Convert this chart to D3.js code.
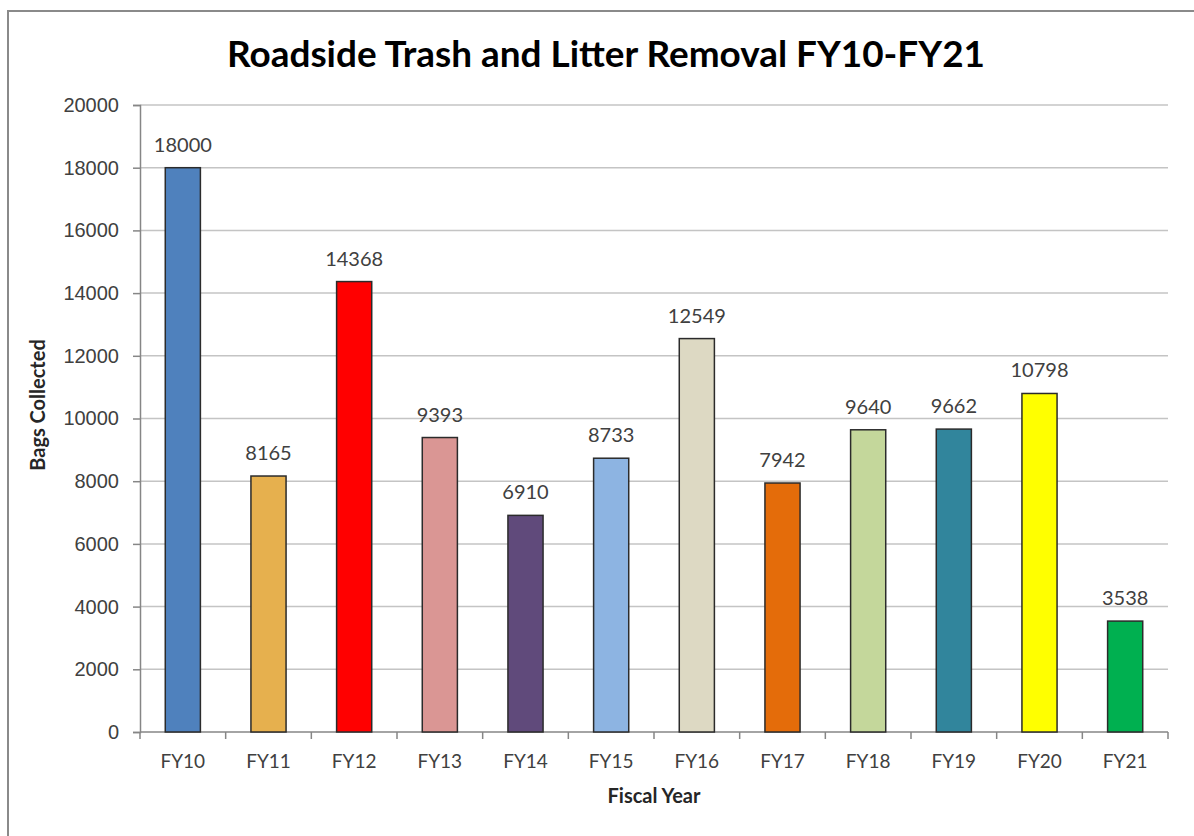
<!DOCTYPE html>
<html lang="en">
<head>
<meta charset="UTF-8">
<title>Roadside Trash and Litter Removal FY10-FY21</title>
<script src="https://d3js.org/d3.v7.min.js"></script>
<style>
  body { margin: 0; background: #fff; }
  svg { display: block; font-family: Lato, "Open Sans", sans-serif; }
</style>
</head>
<body>
<svg id="chart" width="1194" height="836"></svg>
<script>
  // data
  var years = ["FY10", "FY11", "FY12", "FY13", "FY14", "FY15", "FY16", "FY17", "FY18", "FY19", "FY20", "FY21"];
  var bags = [18000, 8165, 14368, 9393, 6910, 8733, 12549, 7942, 9640, 9662, 10798, 3538];
  var barColors = ["#4f81bd", "#e6b04e", "#ff0000", "#da9694", "#604a7b", "#8db4e2",
                   "#ddd9c3", "#e46c0a", "#c4d79b", "#31859c", "#ffff00", "#00b050"];
  var yTicks = [0, 2000, 4000, 6000, 8000, 10000, 12000, 14000, 16000, 18000, 20000];

  var svg = d3.select("#chart");

  // outer chart border (only top and left are visible in the frame)
  svg.append("rect")
    .attr("x", 8).attr("y", 11)
    .attr("width", 1220).attr("height", 900)
    .attr("fill", "none")
    .attr("stroke", "#8a8a8a")
    .attr("stroke-width", 2);

  // plot area
  var plotL = 140, plotR = 1168, plotT = 105, plotB = 732;

  var x = d3.scaleBand()
    .domain(years)
    .range([plotL, plotR])
    .paddingInner(0.59)
    .paddingOuter(0.295);

  var y = d3.scaleLinear()
    .domain([0, 20000])
    .range([plotB, plotT]);

  // gridlines
  svg.append("g")
    .selectAll("line")
    .data(yTicks.slice(1))
    .enter().append("line")
      .attr("x1", plotL).attr("x2", plotR)
      .attr("y1", function(d) { return y(d); })
      .attr("y2", function(d) { return y(d); })
      .attr("stroke", "#c4c4c4")
      .attr("stroke-width", 1.5);

  // y axis
  var yAxis = svg.append("g")
    .attr("transform", "translate(" + plotL + ",0)")
    .call(d3.axisLeft(y).tickValues(yTicks).tickSize(7).tickPadding(14).tickFormat(d3.format("d")));
  yAxis.select(".domain").attr("stroke", "#868686").attr("stroke-width", 1.5);
  yAxis.selectAll(".tick line").attr("stroke", "#868686").attr("stroke-width", 1.5);
  yAxis.selectAll("text")
    .attr("fill", "#404040")
    .style("font-size", "20px");

  // x axis with ticks between the categories
  var step = x.step();
  var xAxis = svg.append("g").attr("transform", "translate(0," + plotB + ")");
  xAxis.append("line")
    .attr("x1", plotL).attr("x2", plotR)
    .attr("stroke", "#868686").attr("stroke-width", 1.5);
  xAxis.selectAll(".sep")
    .data(d3.range(years.length + 1))
    .enter().append("line")
      .attr("class", "sep")
      .attr("x1", function(i) { return plotL + i * step; })
      .attr("x2", function(i) { return plotL + i * step; })
      .attr("y1", 0).attr("y2", 7)
      .attr("stroke", "#868686").attr("stroke-width", 1.5);
  xAxis.selectAll(".lbl")
    .data(years)
    .enter().append("text")
      .attr("class", "lbl")
      .attr("x", function(d) { return x(d) + x.bandwidth() / 2; })
      .attr("y", 36)
      .attr("text-anchor", "middle")
      .attr("fill", "#404040")
      .style("font-size", "19px")
      .text(function(d) { return d; });

  // bars
  svg.append("g")
    .selectAll("rect")
    .data(years)
    .enter().append("rect")
      .attr("x", function(d) { return x(d); })
      .attr("y", function(d, i) { return y(bags[i]); })
      .attr("width", x.bandwidth())
      .attr("height", function(d, i) { return plotB - y(bags[i]); })
      .attr("fill", function(d, i) { return barColors[i]; })
      .attr("stroke", "#2b2b2b")
      .attr("stroke-width", 1.5);

  // value labels
  svg.append("g")
    .selectAll("text")
    .data(years)
    .enter().append("text")
      .attr("x", function(d) { return x(d) + x.bandwidth() / 2; })
      .attr("y", function(d, i) { return y(bags[i]) - 16; })
      .attr("text-anchor", "middle")
      .attr("fill", "#404040")
      .style("font-size", "20px")
      .text(function(d, i) { return bags[i]; });

  // title, fitted to the width it has in the reference
  var title = svg.append("text")
    .attr("x", (227 + 985) / 2)
    .attr("y", 67)
    .attr("text-anchor", "middle")
    .attr("fill", "#000")
    .style("font-weight", "bold")
    .style("font-size", "36px")
    .text("Roadside Trash and Litter Removal FY10-FY21");
  var tw = title.node().getComputedTextLength();
  title.style("font-size", (36 * 758 / tw).toFixed(1) + "px");

  // axis titles
  svg.append("text")
    .attr("x", (plotL + plotR) / 2)
    .attr("y", 803)
    .attr("text-anchor", "middle")
    .attr("fill", "#262626")
    .style("font-weight", "bold")
    .style("font-size", "20px")
    .text("Fiscal Year");

  svg.append("text")
    .attr("transform", "translate(45,405) rotate(-90)")
    .attr("text-anchor", "middle")
    .attr("fill", "#262626")
    .style("font-weight", "bold")
    .style("font-size", "20px")
    .text("Bags Collected");
</script>
</body>
</html>
